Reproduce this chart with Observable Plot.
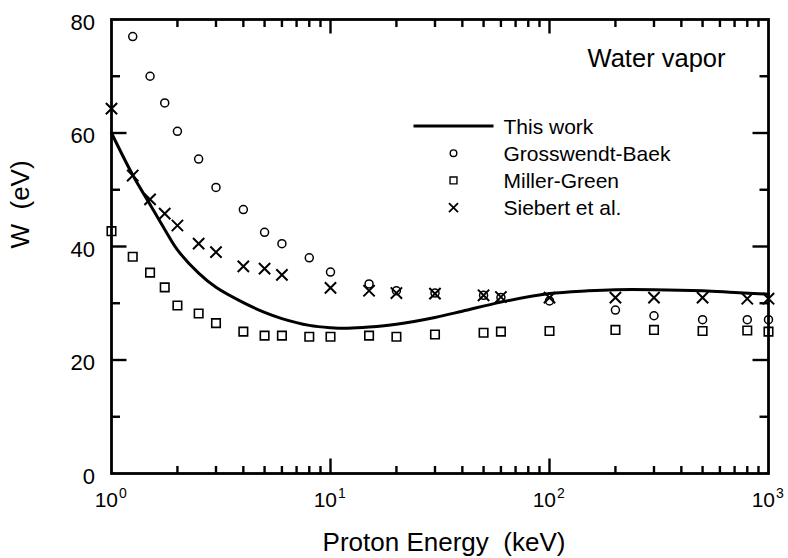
<!DOCTYPE html>
<html><head><meta charset="utf-8">
<script src="https://cdn.jsdelivr.net/npm/d3@7"></script>
<script src="https://cdn.jsdelivr.net/npm/@observablehq/plot@0.6"></script>
<style>body{margin:0;background:#fff}</style>
</head><body><div id="chart"></div>
<script>
// ---- data ----
const energyTW = [1,1.25,1.5,1.75,2,2.5,3,4,5,6,8,10,12,15,20,30,40,60,100,150,200,300,500,700,1000];
const wTW      = [60,52.6,47.4,43,39.4,35.3,32.8,30.1,28.4,27.3,26.1,25.7,25.6,25.8,26.3,27.5,28.6,30.2,31.7,32.2,32.4,32.4,32.2,31.9,31.6];

const energyGB = [1.25,1.5,1.75,2,2.5,3,4,5,6,8,10,15,20,30,50,60,100,200,300,500,800,1000];
const wGB      = [77,70,65.3,60.3,55.4,50.4,46.5,42.5,40.5,38,35.5,33.4,32.2,31.8,31.4,31.0,30.4,28.8,27.8,27.1,27.1,27.1];

const energyMG = [1,1.25,1.5,1.75,2,2.5,3,4,5,6,8,10,15,20,30,50,60,100,200,300,500,800,1000];
const wMG      = [42.7,38.2,35.4,32.8,29.6,28.2,26.5,25.0,24.3,24.3,24.1,24.1,24.3,24.1,24.5,24.8,25.0,25.1,25.3,25.3,25.1,25.2,25.0];

const energyS  = [1,1.25,1.5,1.75,2,2.5,3,4,5,6,10,15,20,30,50,60,100,200,300,500,800,1000];
const wS       = [64.3,52.5,48.3,45.8,43.7,40.5,39.0,36.5,36.1,35.0,32.7,32.2,31.8,31.7,31.4,31.1,31.0,31.0,31.0,31.0,30.8,30.8];

const xTickValues    = [1,10,100,1000];
const xTickExponents = ["0","1","2","3"];
const xMajorTicks    = [10,100];
const xMinorTicks    = [2,3,4,5,6,7,8,9,20,30,40,50,60,70,80,90,200,300,400,500,600,700,800,900];
const yTickLabels    = [0,20,40,60,80];
const yMajorTicks    = [20,40,60];
const yMinorTicks    = [10,30,50,70];
const legendLabels   = ["This work","Grosswendt-Baek","Miller-Green","Siebert et al."];

// ---- tables ----
const zip = (xs, ys) => xs.map((e, i) => ({e, w: ys[i]}));
const thisWork = zip(energyTW, wTW);
const gb = zip(energyGB, wGB);
const mg = zip(energyMG, wMG);
const sb = zip(energyS, wS);

// ---- layout ----
const W = 788, H = 558;
const mL = 111, mR = 20, mT = 19, mB = 85;
const font = "'Liberation Sans', Arial, Helvetica, sans-serif";
const tickW = 2.4;

// segment-shaped symbols used for the inward axis ticks
const seg = (dx, dy) => ({draw(ctx) { ctx.moveTo(0, 0); ctx.lineTo(dx, dy); }});
const tickMark = (data, opts, dx, dy) =>
  Plot.dot(data, {...opts, symbol: seg(dx, dy), stroke: "black", strokeWidth: tickW, fill: "none"});

const legendLine = {draw(ctx) { ctx.moveTo(-40, 0); ctx.lineTo(40, 0); }};
const rowTop = 125.5 - mT, rowGap = 27.2;
const legendSymbols = [
  {symbol: legendLine, r: 4, strokeWidth: 3},
  {symbol: "circle", r: 3.3, strokeWidth: 1.4},
  {symbol: "square", r: 3.9, strokeWidth: 1.4},
  {symbol: "times", r: 4.2, strokeWidth: 1.8}
];

const legendMarks = [];
legendLabels.forEach((label, i) => {
  const s = legendSymbols[i];
  legendMarks.push(Plot.dot([label], {frameAnchor: "top-left", dx: 342, dy: rowTop + i * rowGap,
    symbol: s.symbol, r: s.r, stroke: "black", strokeWidth: s.strokeWidth, fill: "none"}));
  legendMarks.push(Plot.text([label], {frameAnchor: "top-left", dx: 392, dy: rowTop + i * rowGap + 7.8,
    textAnchor: "start", lineAnchor: "bottom", fontSize: 21, fill: "black"}));
});

const chart = Plot.plot({
  width: W, height: H,
  marginLeft: mL, marginRight: mR, marginTop: mT, marginBottom: mB,
  style: {fontFamily: font, color: "black", background: "white", overflow: "visible"},
  x: {type: "log", domain: [1, 1000], axis: null},
  y: {domain: [0, 80], axis: null},
  marks: [
    Plot.frame({stroke: "black", strokeWidth: 2.8, fill: "none"}),
    // ticks (inward) on all four sides
    tickMark(xMajorTicks, {x: d => d, frameAnchor: "bottom"}, 0, -15),
    tickMark(xMajorTicks, {x: d => d, frameAnchor: "top"}, 0, 14),
    tickMark(xMinorTicks, {x: d => d, frameAnchor: "bottom"}, 0, -7.5),
    tickMark(xMinorTicks, {x: d => d, frameAnchor: "top"}, 0, 7.5),
    tickMark(yMajorTicks, {y: d => d, frameAnchor: "left"}, 15, 0),
    tickMark(yMajorTicks, {y: d => d, frameAnchor: "right"}, -16, 0),
    tickMark(yMinorTicks, {y: d => d, frameAnchor: "left"}, 8.5, 0),
    tickMark(yMinorTicks, {y: d => d, frameAnchor: "right"}, -9, 0),
    // tick labels
    Plot.text(yTickLabels, {y: d => d, frameAnchor: "left", text: d => String(d), dx: -16.5, dy: 10,
      textAnchor: "end", lineAnchor: "bottom", fontSize: 22, fill: "black"}),
    Plot.text(xTickValues, {x: d => d, frameAnchor: "bottom", text: () => "10", dx: 6.5, dy: 33,
      textAnchor: "end", lineAnchor: "bottom", fontSize: 21, fill: "black"}),
    Plot.text(xTickValues, {x: d => d, frameAnchor: "bottom", text: (d, i) => xTickExponents[i], dx: 7.5, dy: 24,
      textAnchor: "start", lineAnchor: "bottom", fontSize: 14, fill: "black"}),
    // axis titles
    Plot.text(["Proton Energy  (keV)"], {frameAnchor: "bottom", dx: 4, dy: 77.7,
      lineAnchor: "bottom", fontSize: 26, fill: "black"}),
    Plot.text(["W  (eV)"], {frameAnchor: "left", dx: -83, dy: 2, rotate: -90,
      lineAnchor: "bottom", fontSize: 26, fill: "black"}),
    Plot.text(["Water vapor"], {frameAnchor: "top-right", dx: -43, dy: 47.5,
      textAnchor: "end", lineAnchor: "bottom", fontSize: 25.5, fill: "black"}),
    // data
    Plot.line(thisWork, {x: "e", y: "w", stroke: "black", strokeWidth: 3, curve: "catmull-rom"}),
    Plot.dot(gb, {x: "e", y: "w", symbol: "circle", r: 4, stroke: "black", strokeWidth: 1.5, fill: "none"}),
    Plot.dot(mg, {x: "e", y: "w", symbol: "square", r: 4.8, stroke: "black", strokeWidth: 1.6, fill: "none"}),
    Plot.dot(sb, {x: "e", y: "w", symbol: "times", r: 5.2, stroke: "black", strokeWidth: 2, fill: "none"}),
    ...legendMarks
  ]
});
document.getElementById("chart").appendChild(chart);
</script>
</body></html>
